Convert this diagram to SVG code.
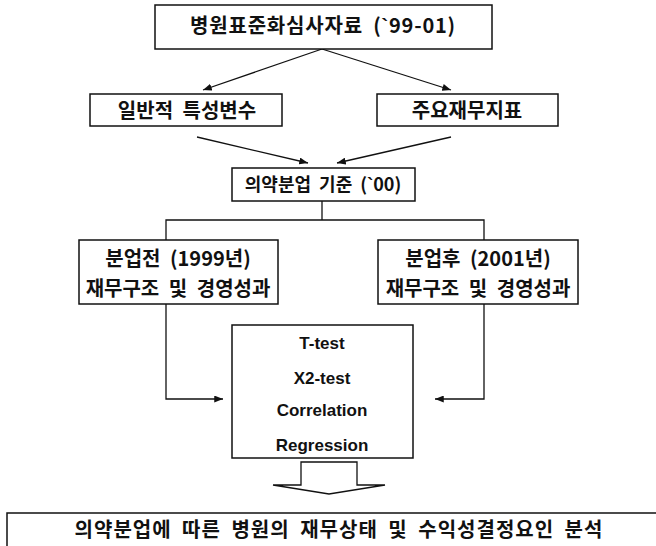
<svg xmlns="http://www.w3.org/2000/svg" width="656" height="546" viewBox="0 0 656 546">
<style>
.box{fill:#fff;stroke:#111;stroke-width:1.5}
.kt{font-family:"Noto Sans CJK KR","Noto Sans",sans-serif;font-weight:700;font-size:20px;fill:#111;text-anchor:middle;word-spacing:5px}
.km{font-size:18px;word-spacing:4px}
.wide{letter-spacing:0.8px}
.lat{font-family:"Liberation Sans",Arial,sans-serif}
.et{font-family:"Liberation Sans",Arial,sans-serif;font-weight:700;font-size:17px;fill:#111;text-anchor:middle}
.ln{fill:none;stroke:#111;stroke-width:1.3}
</style>
<defs>
<marker id="ah" viewBox="0 0 10 8" refX="10" refY="4" markerWidth="9" markerHeight="7" markerUnits="userSpaceOnUse" orient="auto">
<path d="M0,0 L10,4 L0,8 Z" fill="#111"/>
</marker>
</defs>
<rect width="656" height="546" fill="#fff"/>
<g id="connectors">
<line class="ln" x1="322" y1="49" x2="203" y2="90" marker-end="url(#ah)"/>
<line class="ln" x1="322" y1="49" x2="451" y2="90" marker-end="url(#ah)"/>
<line class="ln" x1="197" y1="137" x2="308" y2="163" marker-end="url(#ah)"/>
<line class="ln" x1="451" y1="137" x2="337" y2="163" marker-end="url(#ah)"/>
<polyline class="ln" points="322,201 322,220"/>
<polyline class="ln" points="166,240 166,220 484,220 484,240"/>
<polyline class="ln" points="166,304 166,399 223,399" marker-end="url(#ah)"/>
<polyline class="ln" points="484,304 484,399 435,399" marker-end="url(#ah)"/>
<path class="ln" d="M301,462 V485 H273 L329,494 L385,485 H357 V462 Z" fill="#fff"/>
</g>
<g id="n-source">
<rect class="box" x="155" y="5" width="337" height="44"/>
<text class="kt wide" x="323" y="33">병원표준화심사자료 (<tspan class="lat">`</tspan>99-01)</text>
</g>
<g id="n-general">
<rect class="box" x="90" y="94" width="192" height="32"/>
<text class="kt" x="187" y="118">일반적 특성변수</text>
</g>
<g id="n-finance">
<rect class="box" x="377" y="94" width="181" height="32"/>
<text class="kt" x="467" y="118">주요재무지표</text>
</g>
<g id="n-criterion">
<rect class="box" x="232" y="168" width="183" height="33"/>
<text class="kt km" x="323" y="191">의약분업 기준 (<tspan class="lat">`</tspan>00)</text>
</g>
<g id="n-before">
<rect class="box" x="79" y="240" width="199" height="64"/>
<text class="kt" x="178" y="266">분업전 (1999년)</text>
<text class="kt" x="178" y="296">재무구조 및 경영성과</text>
</g>
<g id="n-after">
<rect class="box" x="378" y="240" width="200" height="64"/>
<text class="kt" x="478" y="266">분업후 (2001년)</text>
<text class="kt" x="478" y="296">재무구조 및 경영성과</text>
</g>
<g id="n-methods">
<rect class="box" x="232" y="325" width="181" height="133"/>
<text class="et" x="322" y="349">T-test</text>
<text class="et" x="322" y="384">X2-test</text>
<text class="et" x="322" y="416">Correlation</text>
<text class="et" x="322" y="451">Regression</text>
</g>
<g id="n-result">
<rect class="box" x="7" y="513" width="660" height="40"/>
<text class="kt" x="339" y="537" style="letter-spacing:1px">의약분업에 따른 병원의 재무상태 및 수익성결정요인 분석</text>
</g>
</svg>
